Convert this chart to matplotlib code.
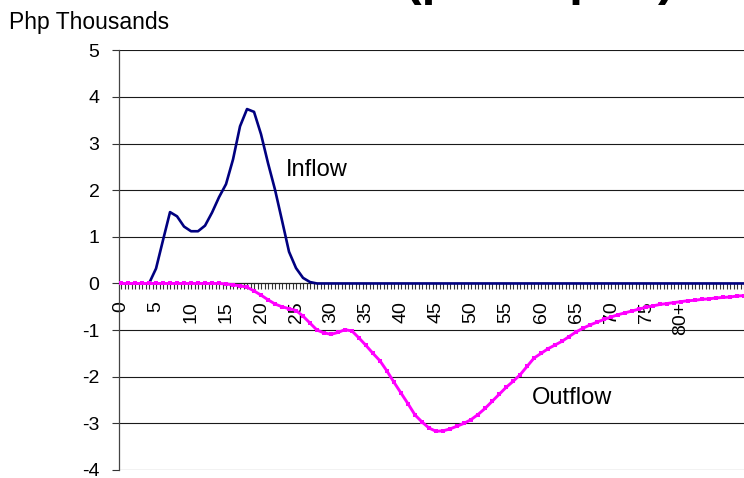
import matplotlib
matplotlib.use("Agg")
import matplotlib.pyplot as plt
from matplotlib.ticker import MultipleLocator, FixedLocator, FixedFormatter
import numpy as np

plt.rcParams['font.family'] = ['Liberation Sans', 'DejaVu Sans']
plt.rcParams['axes.unicode_minus'] = False

# ---- data (Php thousands, per capita, by age) ----
ages = list(range(0, 90))
inflow = [0.0, 0.0, 0.0, 0.0, 0.0, 0.32, 0.93, 1.53, 1.44, 1.22,
          1.12, 1.12, 1.24, 1.52, 1.85, 2.13, 2.66, 3.37, 3.74, 3.68,
          3.20, 2.58, 2.01, 1.35, 0.68, 0.33, 0.12, 0.03, 0.0, 0.0] + [0.0] * 60
outflow = [0.0, 0.0, 0.0, 0.0, 0.0, 0.0, 0.0, 0.0, 0.0, 0.0,
           0.0, 0.0, 0.0, 0.0, 0.0, -0.01, -0.03, -0.05, -0.08, -0.16,
           -0.25, -0.35, -0.44, -0.50, -0.54, -0.58, -0.70, -0.85, -1.00, -1.06,
           -1.09, -1.05, -0.99, -1.02, -1.17, -1.33, -1.50, -1.66, -1.88, -2.12,
           -2.35, -2.58, -2.82, -2.97, -3.10, -3.17, -3.16, -3.12, -3.06, -3.00,
           -2.92, -2.81, -2.68, -2.53, -2.38, -2.23, -2.10, -1.96, -1.78, -1.60,
           -1.50, -1.40, -1.32, -1.24, -1.14, -1.04, -0.96, -0.89, -0.83, -0.77,
           -0.72, -0.67, -0.63, -0.59, -0.55, -0.51, -0.48, -0.45, -0.43, -0.41,
           -0.39, -0.37, -0.36, -0.34, -0.33, -0.31, -0.30, -0.29, -0.27, -0.26]
age_label_pos = [0, 5, 10, 15, 20, 25, 30, 35, 40, 45, 50, 55, 60, 65, 70, 75, 80]
age_labels = ['0', '5', '10', '15', '20', '25', '30', '35', '40', '45', '50',
              '55', '60', '65', '70', '75', '80+']
y_ticks = [-4, -3, -2, -1, 0, 1, 2, 3, 4, 5]

W, H = 744, 478
fig = plt.figure(figsize=(W / 100, H / 100), dpi=100)
ax = fig.add_axes([119 / W, 1 - 470 / H, (W - 119) / W, (470 - 50.3) / H])

ax.set_xlim(-0.29, 89)
ax.set_ylim(-4, 5)

# gridlines
for yv in y_ticks:
    if yv != 0:
        ax.axhline(yv, color='#1a1a1a', lw=0.8, zorder=1)

ax.plot(ages, inflow, color='#000080', lw=1.9, zorder=3, solid_joinstyle='round')
ax.plot(ages, outflow, color='#FF00FF', lw=2.1, marker='s', markersize=2.4,
        markeredgewidth=0, zorder=4)

for s in ['top', 'right']:
    ax.spines[s].set_visible(False)
ax.spines['bottom'].set_position(('data', 0))
ax.spines['bottom'].set_color('#222222')
ax.spines['bottom'].set_linewidth(0.9)
ax.spines['left'].set_color('#444444')
ax.spines['left'].set_linewidth(0.9)

ax.xaxis.set_major_locator(FixedLocator(age_label_pos))
ax.xaxis.set_major_formatter(FixedFormatter(age_labels))
ax.xaxis.set_minor_locator(MultipleLocator(0.5))
ax.tick_params(axis='x', which='both', direction='out', length=4, width=0.8,
               color='#333333')
ax.tick_params(axis='x', which='major', labelsize=14, pad=9, labelrotation=90)
ax.set_yticks(y_ticks)
ax.tick_params(axis='y', direction='out', length=5, width=0.8, color='#333333',
               labelsize=14, pad=9)

ax.text(23.5, 2.31, 'Inflow', fontsize=17, ha='left', va='baseline')
ax.text(58.7, -2.59, 'Outflow', fontsize=17, ha='left', va='baseline')

fig.text(9 / W, 1 - 29 / H, 'Php Thousands', fontsize=16.5, ha='left', va='baseline')
fig.text(405 / W, 1 + 5 / H, '(per capita)', fontsize=36, fontweight='bold',
         ha='left', va='baseline')

fig.savefig('out.png', dpi=100)
